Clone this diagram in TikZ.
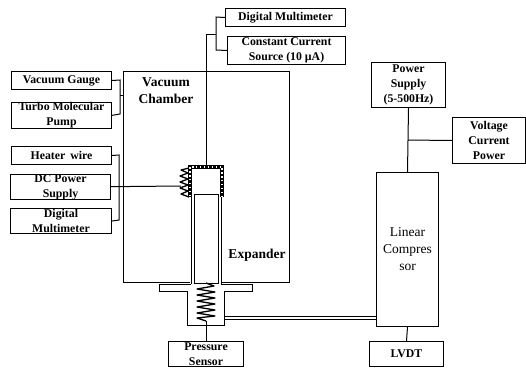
\documentclass[tikz,border=0pt]{standalone}
\usepackage{fontspec}
\setmainfont{Liberation Serif}
\usetikzlibrary{decorations.pathmorphing,calc}
\tikzset{
 x=1pt,y=-1pt,
 box/.style={draw=black,line width=1pt,align=center,inner sep=0pt,font=\fontsize{11.8}{15}\selectfont\bfseries,anchor=north west},
 wire/.style={draw=black,line width=1pt},
 wall/.style={draw=black,line width=1pt},
 labl/.style={inner sep=0pt,align=center,font=\fontsize{13.5}{17}\selectfont\bfseries},
}
\newcommand{\bx}[6]{\node[box,minimum width=#4pt-#2pt,minimum height=#5pt-#3pt] (#1) at (#2,#3) {#6};}
\begin{document}
\begin{tikzpicture}
\useasboundingbox (0,0) rectangle (526,370);
% boxes
\bx{dmtop}{225}{8}{345}{26}{Digital Multimeter}
\bx{ccs}{227}{36}{345}{64}{Constant Current\\Source (10 µA)}
\bx{gauge}{11}{71}{111}{89}{Vacuum Gauge}
\bx{turbo}{11}{102}{111}{126}{Turbo Molecular\\Pump}
\bx{heater}{11}{146}{111}{164}{Heater\, wire}
\bx{dcps}{10}{174}{110}{199}{DC Power\\Supply}
\bx{dmleft}{10}{208}{111}{233}{Digital\\Multimeter}
\bx{press}{168}{341}{243}{366}{Pressure\\Sensor}
\bx{psu}{371}{62}{445}{107}{Power\\Supply\\(5-500Hz)}
\bx{vcp}{452}{117}{525}{163}{Voltage\\Current\\Power}
\node[box,font=\fontsize{13.5}{17}\selectfont,minimum width=62pt,minimum height=154pt] (comp) at (376,172) {Linear\\Compres\\sor};
\bx{lvdt}{369}{341}{443}{366}{LVDT}
% vacuum chamber
\draw[wall] (190,282) -- (123,282) -- (123,71) -- (289,71) -- (289,282) -- (222,282);
\node[labl] (vclabel) at (166,91) {Vacuum\\Chamber};
\node[labl] (explabel) at (257,255) {Expander};
% expander
\draw[wall] (191,197) -- (191,284);
\draw[wall] (221,197) -- (221,284);
\draw[wall] (194,283) -- (194,194) -- (218,194) -- (218,283) -- cycle;
% flange and housing
\draw[wall] (191,284) -- (159,284) -- (159,291) -- (187,291) -- (187,325) -- (224,325) -- (224,291) -- (252,291) -- (252,284) -- (221,284);
% heated cap
\draw[line width=3.4pt,black] (190,197) -- (190,167) -- (222,167) -- (222,197);
\draw[line width=1.2pt,white,dash pattern=on 1.3pt off 2.6pt] (190,196) -- (190,167) -- (222,167) -- (222,196);
% coil
\draw[line width=1.3pt,line join=round] (189,168) -- (181,170) -- (188,173) -- (180,176) -- (188,179) -- (180,182) -- (188,185) -- (180,188) -- (188,191) -- (181,194) -- (189,197);
% spring
\coordinate (spT) at (206,283);
\coordinate (spB) at (206,321);
\draw[line width=1.3pt,line join=round] (spT) -- (214,286) -- (197,289) -- (215,292) -- (197,295) -- (215,298) -- (197,301) -- (215,304) -- (197,307) -- (215,310) -- (197,313) -- (215,316) -- (197,318) -- (spB);
% connectors
\draw[wire] (dmtop.west) -- (216,17) -- (216,50) -- (ccs.west);
\coordinate (tj) at (216,34);
\draw[wire] (tj) -- (206,34) -- (206,167);
\draw[wire] (gauge.east) -- (120,80) -- (120,114) -- (turbo.east);
\coordinate (gj) at (120,95);
\draw[wire] (gj) -- (123,95);
\draw[wire] (heater.east) -- (119,155) -- (119,220) -- (dmleft.east);
\coordinate (coilL) at (181,186);
\draw[wire] (dcps.east) ++(0,-0.5) -- (coilL);
\draw[wire] (psu.south) -- (comp.north);
\coordinate (vj) at (408,140);
\draw[wire] (vcp.west) -- (vj);
\draw[wire] (comp.south) -- (lvdt.north);
\draw[wire] (spB) -- (press.north);
\draw[wire] (224,316) -- (376,316);
\draw[wire] (224,319) -- (376,319);
\end{tikzpicture}
\end{document}
